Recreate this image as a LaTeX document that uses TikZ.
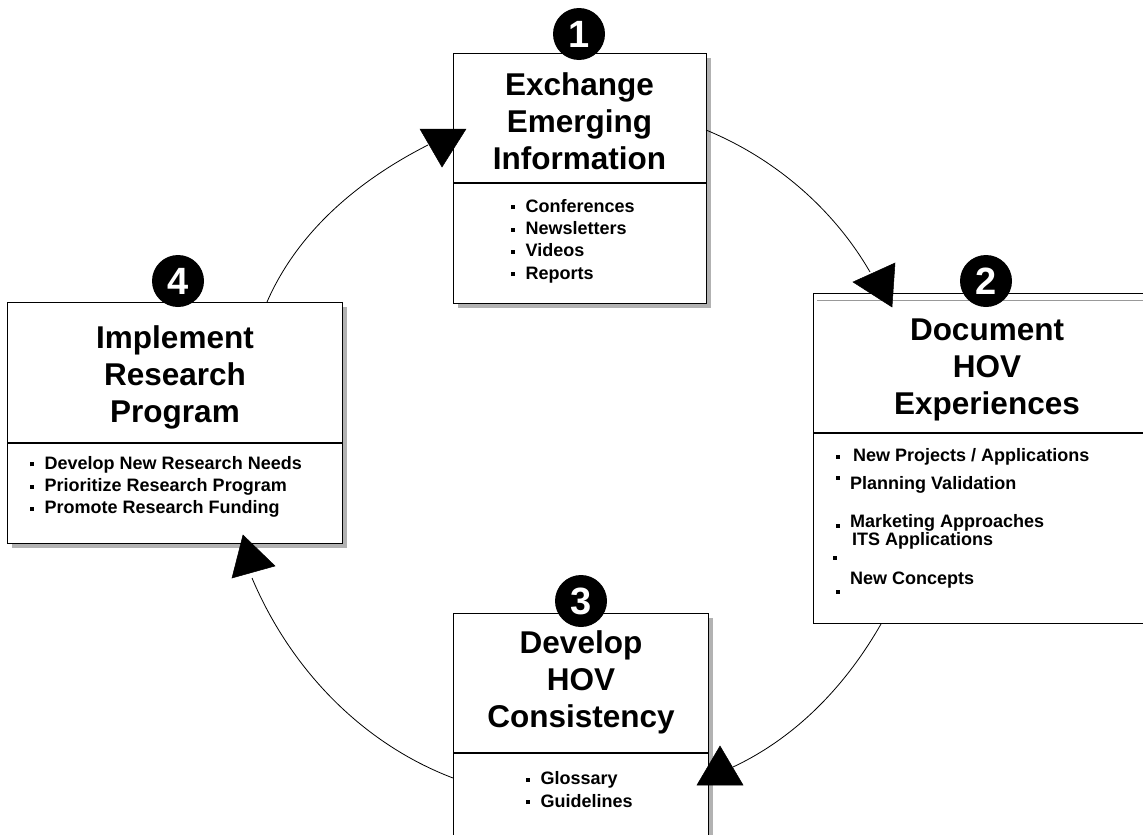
\documentclass[tikz,border=0pt]{standalone}
\usepackage{fontspec}
\setmainfont{Liberation Sans}
\usetikzlibrary{shadows}
\tikzset{
  box/.style={draw=black, line width=1.3pt, fill=white, anchor=north west, inner sep=0pt},
  shbox/.style={box, drop shadow={shadow xshift=4pt, shadow yshift=-4pt, fill=black!30, opacity=1}},
  divline/.style={line width=1.3pt},
  titletext/.style={font=\fontsize{31.5}{37}\selectfont\bfseries, align=center, inner sep=0pt},
  items/.style={font=\fontsize{18}{22.3}\selectfont\bfseries, align=left, anchor=west, inner sep=0pt},
  itemline/.style={font=\fontsize{18}{20}\selectfont\bfseries, anchor=west, inner sep=0pt},
  numcirc/.style={circle, fill=black, minimum size=52pt, inner sep=0pt, text=white, font=\fontsize{38}{38}\selectfont\bfseries},
  conn/.style={line width=0.8pt},
  headtri/.style={fill=black, draw=black, line width=0.5pt},
  bulsq/.style={fill=black}
}
\newcommand{\bx}{\makebox[14.5pt][l]{\rule[3pt]{4pt}{4pt}}}
\begin{document}
\begin{tikzpicture}[x=1pt,y=-1pt]
\useasboundingbox (0,0) rectangle (1143,835);
% boxes
\node[shbox, minimum width=253pt, minimum height=250pt] (b1) at (453,53) {};
\node[box, minimum width=348pt, minimum height=330pt] (b2) at (813,293) {};
\node[shbox, minimum width=255pt, minimum height=300pt] (b3) at (453,613) {};
\node[shbox, minimum width=335pt, minimum height=241pt] (b4) at (7,302) {};
\draw[black!40, line width=0.8pt] (b2.north west |- 0,300) ++(4,0) -- (b2.north east |- 0,300);
% dividers
\draw[divline] (b1.west |- 0,183) -- (b1.east |- 0,183);
\draw[divline] (b2.west |- 0,433) -- (b2.east |- 0,433);
\draw[divline] (b3.west |- 0,753) -- (b3.east |- 0,753);
\draw[divline] (b4.west |- 0,443) -- (b4.east |- 0,443);
% titles
\node[titletext] (t1) at (579.5,121) {Exchange\\Emerging\\Information};
\node[titletext] (t2) at (987,370) {Document\\HOV\\Experiences};
\node[titletext] (t3) at (581,682) {Develop\\HOV\\Consistency};
\node[titletext] (t4) at (175,377) {Implement\\Research\\Program};
% item lists
\node[items] (i1) at (511,241) {\bx Conferences\\\bx Newsletters\\\bx Videos\\\bx Reports};
\node[items] (i4) at (30,487) {\bx Develop New Research Needs\\\bx Prioritize Research Program\\\bx Promote Research Funding};
\node[items] (i3) at (526,789.5) {\bx Glossary\\\bx Guidelines};
\node[itemline] (p1) at (853,457) {New Projects / Applications};
\node[itemline] (p2) at (850,485) {Planning Validation};
\node[itemline] (p3) at (850,523) {Marketing Approaches};
\node[itemline] (p4) at (852,541) {ITS Applications};
\node[itemline] (p5) at (850,580) {New Concepts};
\fill[bulsq] (836,455) rectangle ++(4,4);
\fill[bulsq] (836,476) rectangle ++(4,4);
\fill[bulsq] (836,524) rectangle ++(4,4);
\fill[bulsq] (833,556) rectangle ++(4,4);
\fill[bulsq] (836,590) rectangle ++(4,4);
% connector end points
\coordinate (a1) at (706,130);
\coordinate (a2) at (870,272);
\coordinate (c1) at (881,624);
\coordinate (c2) at (733,767);
\coordinate (d1) at (453,778);
\coordinate (d2) at (252,578);
\coordinate (e1) at (267,302);
\coordinate (e2) at (428,145);
\draw[conn] (a1) .. controls (774,158) and (833,208) .. (a2);
\draw[conn] (c1) .. controls (845,687) and (795,738) .. (c2);
\draw[conn] (d1) .. controls (361,743) and (290,668) .. (d2);
\draw[conn] (e1) .. controls (298,231) and (359,180) .. (e2);
% arrow heads
\fill[headtri] (420,129) -- (466,129) -- (442,167) -- cycle;
\fill[headtri] (853,282) -- (895,263) -- (892,307) -- cycle;
\fill[headtri] (697,785) -- (743,785) -- (720,746) -- cycle;
\fill[headtri] (232,578) -- (275,566) -- (243,535) -- cycle;
% numbers
\node[numcirc] (n1) at (579,34) {1};
\node[numcirc] (n2) at (986,281) {2};
\node[numcirc] (n3) at (581,601) {3};
\node[numcirc] (n4) at (178,281) {4};
\end{tikzpicture}
\end{document}
